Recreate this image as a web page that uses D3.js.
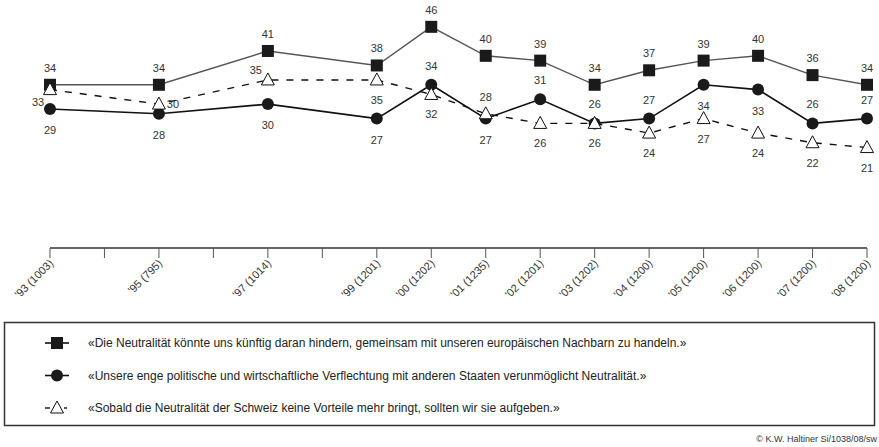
<!DOCTYPE html>
<html><head><meta charset="utf-8">
<script src="https://cdn.jsdelivr.net/npm/d3@7"></script>
<style>body{margin:0;background:#fff}svg{display:block;font-family:"Liberation Sans",Arial,sans-serif}</style>
</head><body><svg id="c" width="879" height="447"></svg>
<script>
const years = [1993,1995,1997,1999,2000,2001,2002,2003,2004,2005,2006,2007,2008];
const sampleSizes = [1003,795,1014,1201,1202,1235,1201,1202,1200,1200,1200,1200,1200];
const squareValues = [34,34,41,38,46,40,39,34,37,39,40,36,34];
const circleValues = [29,28,30,27,34,27,31,26,27,34,33,26,27];
const triangleValues = [33,30,35,35,32,28,26,26,24,27,24,22,21];
const squareLabelPos = ["a","a","a","a","a","a","a","a","a","a","a","a","a"];
const circleLabelPos = ["b","b","b","b","a","b","a","a","a","b","b","a","a"];
const triangleLabelPos = ["lb","r","la","b","b","a","b","b","b","b","b","b","b"];
const legendTexts = [
 "«Die Neutralität könnte uns künftig daran hindern, gemeinsam mit unseren europäischen Nachbarn zu handeln.»",
 "«Unsere enge politische und wirtschaftliche Verflechtung mit anderen Staaten verunmöglicht Neutralität.»",
 "«Sobald die Neutralität der Schweiz keine Vorteile mehr bringt, sollten wir sie aufgeben.»"
];
const footer = "© K.W. Haltiner Si/1038/08/sw";

const svg = d3.select("#c");
const x = d3.scaleLinear().domain([1993,2008]).range([50,867]);
const y = d3.scaleLinear().domain([0,50]).range([249,7.5]);
const allYears = d3.range(1993,2009);

// axis
const ax = svg.append("g");
ax.append("line").attr("x1",x(1993)).attr("x2",x(2008)).attr("y1",248).attr("y2",248).attr("stroke","#333").attr("stroke-width",1.3);
ax.selectAll("line.t").data(allYears).join("line").attr("class","t")
  .attr("x1",d=>x(d)).attr("x2",d=>x(d)).attr("y1",248).attr("y2",258).attr("stroke","#555").attr("stroke-width",1);
ax.selectAll("text.tl").data(years).join("text").attr("class","tl")
  .attr("x",d=>x(d)+4).attr("y",264)
  .attr("transform",d=>`rotate(-45 ${x(d)+4} 264)`)
  .attr("text-anchor","end").attr("font-size",11).attr("fill","#333")
  .text((d,i)=>`'${String(d).slice(2)} (${sampleSizes[i]})`);

const series = [
 {vals:squareValues, pos:squareLabelPos, color:"#555", width:1.4, dash:null, sym:"square"},
 {vals:circleValues, pos:circleLabelPos, color:"#111", width:1.6, dash:null, sym:"circle"},
 {vals:triangleValues, pos:triangleLabelPos, color:"#111", width:1.4, dash:"7,8", sym:"triangle"}
];
const line = d3.line().x(d=>x(d[0])).y(d=>y(d[1]));
function drawSym(g, sym){
  if(sym==="square") g.append("rect").attr("x",-6).attr("y",-6).attr("width",12).attr("height",12).attr("fill","#1a1a1a");
  else if(sym==="circle") g.append("circle").attr("r",6).attr("fill","#1a1a1a");
  else g.append("path").attr("d","M0,-7L6.5,5L-6.5,5Z").attr("fill","#fff").attr("stroke","#111").attr("stroke-width",1);
}
[2,1,0].forEach(i=>{
  const s=series[i];
  svg.append("path").datum(years.map((yr,j)=>[yr,s.vals[j]])).attr("d",line)
    .attr("fill","none").attr("stroke",s.color).attr("stroke-width",s.width).attr("stroke-dasharray",s.dash);
});
[1,0,2].forEach(i=>{
  const s=series[i];
  years.forEach((yr,j)=>{
    const g=svg.append("g").attr("transform",`translate(${x(yr)},${y(s.vals[j])})`);
    drawSym(g,s.sym);
  });
});
const off = {a:[0,-13], b:[0,22], r:[14,4], lb:[-12,16], la:[-12,-6]};
series.forEach(s=>{
  years.forEach((yr,j)=>{
    const o=off[s.pos[j]];
    const dyAdj = (s.sym==="circle" && s.pos[j]==="b") ? 3 : (s.sym==="triangle" && s.pos[j]==="b") ? 2 : (s.sym==="circle"&&s.pos[j]==="a")? -2:0;
    svg.append("text").attr("x",x(yr)+o[0]).attr("y",y(s.vals[j])+o[1]+dyAdj)
      .attr("text-anchor","middle").attr("font-size",11).attr("fill","#333").text(s.vals[j]);
  });
});

// legend
svg.append("rect").attr("x",4.5).attr("y",322.5).attr("width",870).attr("height",103).attr("fill","none").attr("stroke","#333").attr("stroke-width",1.5);
series.forEach((s,i)=>{
  const cy = 343 + i*32.5;
  if(s.dash){
    svg.append("line").attr("x1",45).attr("x2",50).attr("y1",cy).attr("y2",cy).attr("stroke","#111").attr("stroke-width",1.4);
    svg.append("line").attr("x1",64).attr("x2",67).attr("y1",cy).attr("y2",cy).attr("stroke","#111").attr("stroke-width",1.4);
  } else {
    svg.append("line").attr("x1",45).attr("x2",69).attr("y1",cy).attr("y2",cy).attr("stroke","#111").attr("stroke-width",1.6);
  }
  const g=svg.append("g").attr("transform",`translate(57,${cy})`);
  drawSym(g,s.sym);
  svg.append("text").attr("x",88).attr("y",cy+4).attr("font-size",12).attr("fill","#222").text(legendTexts[i]);
});
svg.append("text").attr("x",877).attr("y",442).attr("text-anchor","end").attr("font-size",9).attr("fill","#333").text(footer);
</script></body></html>
